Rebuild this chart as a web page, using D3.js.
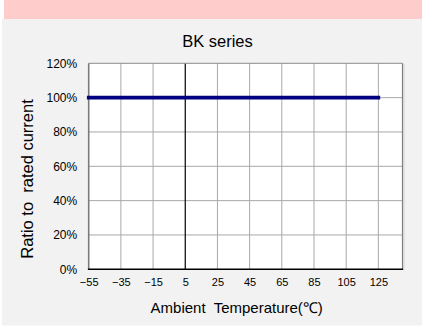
<!DOCTYPE html>
<html>
<head>
<meta charset="utf-8">
<script src="https://cdn.jsdelivr.net/npm/d3@7"></script>
<style>
  html, body { margin: 0; padding: 0; background: #ffffff; }
  svg { display: block; }
  text { font-family: Arial, "Liberation Sans", sans-serif; fill: #000; }
</style>
</head>
<body>
<svg id="chart" width="422" height="329"></svg>
<script>
// Derating curve: ambient temperature (°C) vs. ratio to rated current (%)
const temperatures = [-55, 125];
const ratioPercent = [100, 100];
const xTickValues = [-55, -35, -15, 5, 25, 45, 65, 85, 105, 125];
const yTickValues = [0, 20, 40, 60, 80, 100, 120];
const chartTitle = "BK series";
const xTitle = "Ambient  Temperature(\u2103)";
const yTitle = "Ratio to  rated current";

const svg = d3.select("#chart");

// page background: pink header strip and grey panel
svg.append("rect").attr("x", 4).attr("y", 0).attr("width", 418).attr("height", 19).attr("fill", "#ffcccc");
svg.append("rect").attr("x", 2).attr("y", 19).attr("width", 420).attr("height", 306.5).attr("fill", "#f2f2f2");

const plot = { left: 88.7, right: 402.5, top: 63.3, bottom: 269.3 };

const x = d3.scaleLinear().domain([-55, 140]).range([plot.left, plot.right]);
const y = d3.scaleLinear().domain([0, 120]).range([plot.bottom, plot.top]);

// plot area
svg.append("rect")
  .attr("x", plot.left).attr("y", plot.top)
  .attr("width", plot.right - plot.left).attr("height", plot.bottom - plot.top)
  .attr("fill", "#ffffff");

// grid lines
const grid = svg.append("g").attr("stroke", "#a8a8a8").attr("stroke-width", 1);
grid.selectAll("line.v").data(xTickValues.filter(d => d !== 5 && d !== -55)).join("line")
  .attr("x1", d => x(d)).attr("x2", d => x(d))
  .attr("y1", plot.top).attr("y2", plot.bottom);
grid.selectAll("line.h").data(yTickValues.filter(d => d > 0 && d < 120)).join("line")
  .attr("y1", d => y(d)).attr("y2", d => y(d))
  .attr("x1", plot.left).attr("x2", plot.right);

// reference line at 5 °C
svg.append("line")
  .attr("x1", x(5)).attr("x2", x(5))
  .attr("y1", plot.top).attr("y2", plot.bottom)
  .attr("stroke", "#000").attr("stroke-width", 1.2);

// frame
svg.append("line").attr("x1", plot.right + 1.5).attr("x2", plot.right + 1.5)
  .attr("y1", plot.top + 1).attr("y2", plot.bottom + 1).attr("stroke", "#d4d4d4").attr("stroke-width", 1);
svg.append("line").attr("x1", plot.left).attr("x2", plot.right)
  .attr("y1", plot.top).attr("y2", plot.top).attr("stroke", "#8c8c8c").attr("stroke-width", 1);
svg.append("line").attr("x1", plot.right).attr("x2", plot.right)
  .attr("y1", plot.top).attr("y2", plot.bottom).attr("stroke", "#808080").attr("stroke-width", 1.2);
svg.append("line").attr("x1", plot.left).attr("x2", plot.left)
  .attr("y1", plot.top).attr("y2", plot.bottom).attr("stroke", "#7a7a7a").attr("stroke-width", 1.6);
svg.append("line").attr("x1", plot.left - 0.8).attr("x2", plot.right + 0.6)
  .attr("y1", plot.bottom).attr("y2", plot.bottom).attr("stroke", "#000").attr("stroke-width", 1.5);

// data line
const line = d3.line().x(d => x(d[0])).y(d => y(d[1]));
svg.append("path")
  .datum(temperatures.map((t, i) => [t, ratioPercent[i]]))
  .attr("d", line)
  .attr("fill", "none")
  .attr("stroke", "#000080")
  .attr("stroke-width", 3.6)
  .attr("stroke-linecap", "square");

// axes (labels only)
const xAxis = d3.axisBottom(x).tickValues(xTickValues).tickSize(0).tickPadding(0)
  .tickFormat(d => d < 0 ? "\u2212" + Math.abs(d) : String(d));
const gx = svg.append("g").attr("transform", `translate(0,${plot.bottom + 9})`).call(xAxis);
gx.select(".domain").remove();
gx.selectAll("text").attr("font-size", 11).attr("dy", "0.71em").style("font-family", "Arial, 'Liberation Sans', sans-serif").attr("fill", "#000");

const yAxis = d3.axisLeft(y).tickValues(yTickValues).tickSize(0).tickPadding(0)
  .tickFormat(d => d + "%");
const gy = svg.append("g").attr("transform", `translate(${plot.left - 11.5},0)`).call(yAxis);
gy.select(".domain").remove();
gy.selectAll("text").attr("font-size", 12).style("font-family", "Arial, 'Liberation Sans', sans-serif").attr("fill", "#000");

// titles
svg.append("text").attr("x", 217.5).attr("y", 46.5).attr("text-anchor", "middle")
  .attr("font-size", 16.5).style("white-space", "pre").text(chartTitle);
svg.append("text").attr("x", 236.7).attr("y", 312.5).attr("text-anchor", "middle")
  .attr("font-size", 15).style("white-space", "pre").text(xTitle);
svg.append("text")
  .attr("transform", `translate(33,179) rotate(-90)`)
  .attr("text-anchor", "middle")
  .attr("font-size", 16.5).style("white-space", "pre").text(yTitle);
</script>
</body>
</html>
